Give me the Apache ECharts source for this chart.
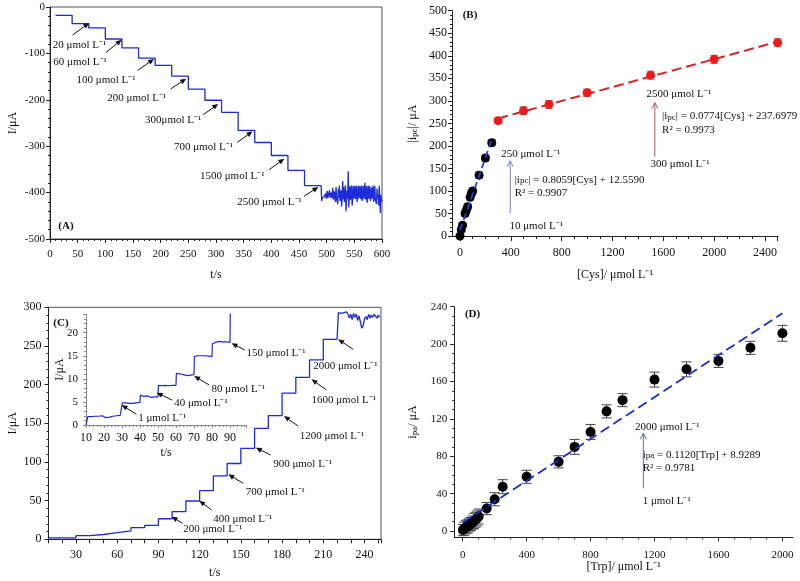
<!DOCTYPE html>
<html><head><meta charset="utf-8">
<script src="https://cdn.jsdelivr.net/npm/echarts@6/dist/echarts.min.js"></script>
<style>html,body{margin:0;padding:0;background:#fff}#c{width:800px;height:581px}</style>
</head><body><div id="c"></div><script>
const FONT = '"Liberation Serif", "Times New Roman", serif';

// ---------- Panel A : amperometric trace (Cys) ----------
const stepTimesA = [10,40,70,100,130,160,190,220,250,280,310,340,370,400,430,460,490];
const levelsA = [-18,-36,-45,-69,-88,-110,-126,-149,-177,-201,-227,-266,-292,-320,-352,-385];
const noiseStartA = 491;
const noiseA = [-418,-412,-414,-410,-413,-408,-412,-402,-413,-410,
 -396,-412,-409,-414,-395,-411,-413,-400,-412,-409,
 -390,-415,-411,-397,-413,-420,-388,-412,-409,-425,
 -392,-411,-385,-418,-410,-395,-430,-412,-375,-414,
 -388,-420,-409,-384,-440,-411,-395,-413,-354,-432,
 -409,-386,-415,-410,-385,-428,-411,-386,-413,-409,
 -385,-414,-410,-386,-420,-411,-385,-412,-409,-386,
 -414,-410,-385,-418,-411,-386,-413,-409,-379,-415,
 -410,-386,-422,-411,-385,-413,-409,-386,-418,-410,
 -389,-413,-409,-385,-420,-411,-386,-414,-410,-425,
 -392,-411,-404,-428,-386,-412,-444,-405,-420,-415];

// ---------- Panel B : calibration (Cys) ----------
const cysLow  = [0,10,20,40,50,60,80,90,100,150,200,250];
const ipcLow  = [0,14,24,50,57,65,86,95,100,135,173,207];
const errLow  = [3,5,5,6,6,6,6,7,7,7,7,7];
const cysHigh = [300,500,700,1000,1500,2000,2500];
const ipcHigh = [256,278,292,318,357,392,429];
const errHigh = [6,9,9,8,9,9,9];
const fitLowX = [0,255],   fitLowY = [12.6,218];
const fitHighX = [300,2500], fitHighY = [260.9,431.2];

// ---------- Panel C : amperometric trace (Trp) ----------
const stepTimesC = [10,30,40,50,60,70,80,90,100,110,120,130,140,150,160,170,180,190,200,210,220];
const levelsC = [1.8,4.8,6.2,8.5,11,15,18,26.6,35.8,49.5,63,82,98,117.7,143.5,160,189,209.5,232,258.6];
const noiseStartC = 221;
const noiseC = [293,294,292,294,293,292,294,291,286,291,284,292,287,291,283,289,281,273,276,285,288,284,291,286,290,287,291,289,286,290,287];
// inset
const insetT = [10,10.6,11,12,13,14,15,16,17,18,19,20,21,22,23,24,25,26,27,28,29,30,
 30.2,31,32,33,34,35,36,37,38,39,40,
 40.2,41,42,43,44,45,46,47,48,49,50,
 50.2,51,52,53,54,55,56,57,58,59,60,
 60.2,61,62,63,64,65,66,67,68,69,70,
 70.2,71,72,73,74,75,76,77,78,79,80,
 80.2,81,82,83,84,85,86,87,88,89,90,
 90.2];
const insetI = [0,0.3,1.8,1.9,1.8,1.9,1.9,2.0,1.9,2.1,2.0,1.8,1.6,1.5,1.7,1.8,1.9,2.0,2.0,2.1,2.1,2.2,
 4.8,4.9,4.8,4.7,4.7,4.6,4.7,4.8,4.8,4.9,4.9,
 6.5,6.4,6.2,6.1,6.3,6.2,6.0,6.2,6.1,6.0,6.1,
 8.6,8.4,8.5,8.5,8.6,8.5,8.5,8.6,8.6,8.6,8.6,
 11.2,11.3,11.1,11.0,10.9,10.8,10.7,10.6,10.8,11.0,10.9,
 14.8,15.0,15.0,15.1,15.0,15.1,15.0,14.9,14.9,14.8,14.8,
 17.6,17.8,17.9,18.0,18.1,17.9,18.0,17.9,18.0,17.9,17.9,
 26];

// ---------- Panel D : calibration (Trp) ----------
const trp = [1,10,20,30,40,50,60,70,80,90,100,150,200,250,400,600,700,800,900,1000,1200,1400,1600,1800,2000];
const ipa = [1,2.5,4,5,6,7.5,9,10.5,12,13.5,15.5,24,34,47.4,58,74,90,106,128,140,162,173,182,196,211.5];
const errD = [6,7,7,7,7,7,7,8,8,8,8,6.5,7,7.5,7,6.5,8,8,7,7,8,8,7,7,8.5];
const fitDX = [0,2000], fitDY = [8.9,232.9];

// ---------- helpers ----------
const zip = (a, b) => a.map((v, i) => [v, b[i]]);
const zip3 = (a, b, c) => a.map((v, i) => [v, b[i], c[i]]);
function stepPairs(times, levels) {
  const out = [];
  for (let i = 0; i < levels.length; i++) { out.push([times[i], levels[i]]); out.push([times[i + 1], levels[i]]); }
  return out;
}
const seriesA = stepPairs(stepTimesA, levelsA).concat(noiseA.map((v, i) => [noiseStartA + i, v]));
const seriesC = stepPairs(stepTimesC, levelsC).concat(noiseC.map((v, i) => [noiseStartC + i, v]));

const RICH = {
  sub: { fontFamily: FONT, fontSize: 9, verticalAlign: 'bottom', lineHeight: 10, padding: [6, 0, 0, 0] }
};
const BLK = '#111';
const plain = v => String(v);
function merge(a, b) {
  const o = Array.isArray(a) ? a.slice() : Object.assign({}, a);
  for (const k in b) {
    if (b[k] && typeof b[k] === 'object' && !Array.isArray(b[k]) && a[k] && typeof a[k] === 'object') o[k] = merge(a[k], b[k]);
    else o[k] = b[k];
  }
  return o;
}
const AX = {
  type: 'value',
  axisLine: { show: true, onZero: false, lineStyle: { color: '#222', width: 1 } },
  axisTick: { show: true, length: 4, lineStyle: { color: '#222' } },
  minorTick: { show: true, splitNumber: 5, length: 2, lineStyle: { color: '#222' } },
  axisLabel: { fontFamily: FONT, fontSize: 11, color: BLK, margin: 5, formatter: plain },
  splitLine: { show: false }, minorSplitLine: { show: false },
  nameLocation: 'middle',
  nameTextStyle: { fontFamily: FONT, fontSize: 12, color: BLK, rich: RICH }
};
const FRAME = {
  type: 'value', min: 0, max: 1,
  axisLine: { show: true, onZero: false, lineStyle: { color: '#222', width: 1 } },
  axisTick: { show: false }, axisLabel: { show: false }, splitLine: { show: false },
  nameLocation: 'middle',
  nameTextStyle: { fontFamily: FONT, fontSize: 12, color: BLK, rich: RICH }
};
function errRender(capW) {
  return function (params, api) {
    const x = api.value(0), y = api.value(1), e = api.value(2);
    const p1 = api.coord([x, y + e]), p2 = api.coord([x, y - e]);
    const style = { stroke: api.visual('color'), lineWidth: 1 };
    return { type: 'group', children: [
      { type: 'line', shape: { x1: p1[0], y1: p1[1], x2: p2[0], y2: p2[1] }, style },
      { type: 'line', shape: { x1: p1[0] - capW, y1: p1[1], x2: p1[0] + capW, y2: p1[1] }, style },
      { type: 'line', shape: { x1: p2[0] - capW, y1: p2[1], x2: p2[0] + capW, y2: p2[1] }, style }
    ]};
  };
}

const chart = echarts.init(document.getElementById('c'), null, { renderer: 'canvas' });
const G = (o) => Object.assign({ containLabel: false, outerBoundsMode: 'none' }, o);

const option = {
  animation: false,
  backgroundColor: '#fff',
  grid: [
    G({ left: 50, top: 7, width: 332, height: 232, show: true, borderColor: '#555', borderWidth: 1 }), // 0 A
    G({ left: 452, top: 10.7, width: 326, height: 226 }),                  // 1 B frame
    G({ left: 460, top: 10.7, width: 317.7, height: 225.3 }),              // 2 B data
    G({ left: 48.5, top: 307.3, width: 332.5, height: 232, show: true, borderColor: '#555', borderWidth: 1 }), // 3 C
    G({ left: 86, top: 314.2, width: 160.2, height: 110.8 }),              // 4 C inset
    G({ left: 454.3, top: 306.7, width: 338.7, height: 230.6 }),           // 5 D frame
    G({ left: 462.7, top: 306.7, width: 319.7, height: 224.3 })            // 6 D data
  ],
  xAxis: [
    merge(AX, { gridIndex: 0, min: 0, max: 600, interval: 50, name: 't/s', nameGap: 30,
      axisLabel: { margin: 10 } }),
    merge(FRAME, { gridIndex: 1, name: '[Cys]/ μmol L⁻¹', nameGap: 32 }),
    merge(AX, { gridIndex: 2, min: 0, max: 2500, interval: 400, axisLine: { show: false }, offset: 1,
      minorTick: { splitNumber: 4 }, axisLabel: { showMaxLabel: false, margin: 10, fontSize: 12 } }),
    merge(AX, { gridIndex: 3, min: 10, max: 252, interval: 10, name: 't/s', nameGap: 28,
      minorTick: { show: false },
      axisLabel: { interval: 0, margin: 10, fontSize: 12, formatter: v => (v % 30 === 0 ? String(v) : '') } }),
    merge(AX, { gridIndex: 4, min: 10, max: 99, interval: 10, name: 't/s', nameGap: 22,
      axisLine: { lineStyle: { color: '#888' } }, axisTick: { length: 3, lineStyle: { color: '#888' } },
      minorTick: { splitNumber: 5, lineStyle: { color: '#888' } },
      axisLabel: { margin: 7, fontSize: 12, formatter: v => (v % 10 === 0 ? String(v) : '') } }),
    merge(FRAME, { gridIndex: 5, name: '[Trp]/ μmol L⁻¹', nameGap: 24 }),
    merge(AX, { gridIndex: 6, min: 0, max: 2000, interval: 400, axisLine: { show: false }, offset: 6.3,
      minorTick: { splitNumber: 4 }, axisLabel: { margin: 12 } })
  ],
  yAxis: [
    merge(AX, { gridIndex: 0, min: -500, max: 0, interval: 100, name: 'I/μA', nameGap: 31 }),
    merge(FRAME, { gridIndex: 1, name: '|i{sub|pc}|/ μA', nameGap: 33 }),
    merge(AX, { gridIndex: 2, min: 0, max: 500, interval: 50, axisLine: { show: false }, offset: 8,
      axisLabel: { fontSize: 12 } }),
    merge(AX, { gridIndex: 3, min: 0, max: 300, interval: 50, name: 'I/μA', nameGap: 30,
      axisLabel: { margin: 7, fontSize: 12 } }),
    merge(AX, { gridIndex: 4, min: 0, max: 24, interval: 5, name: 'I/μA', nameGap: 20, nameMoveOverlap: false,
      axisLine: { lineStyle: { color: '#888' } }, axisTick: { length: 3, lineStyle: { color: '#888' } },
      minorTick: { splitNumber: 5, lineStyle: { color: '#888' } },
      axisLabel: { showMaxLabel: false, margin: 8, fontSize: 11 } }),
    merge(FRAME, { gridIndex: 5, name: 'i{sub|pa}/ μA', nameGap: 35 }),
    merge(AX, { gridIndex: 6, min: 0, max: 240, interval: 40, axisLine: { show: false }, offset: 8.4,
      minorTick: { splitNumber: 4 }, axisLabel: { margin: 7 } })
  ],
  series: [
    { type: 'line', xAxisIndex: 0, yAxisIndex: 0, data: seriesA, showSymbol: false, symbol: 'none',
      lineStyle: { color: '#1d2bd8', width: 1.3 } },
    // B
    { type: 'line', xAxisIndex: 2, yAxisIndex: 2, data: zip(fitLowX, fitLowY), symbol: 'none', z: 3,
      lineStyle: { color: '#1f3fd6', width: 1.8, type: [7, 4] } },
    { type: 'line', xAxisIndex: 2, yAxisIndex: 2, data: zip(fitHighX, fitHighY), symbol: 'none', z: 1,
      lineStyle: { color: '#c92a2a', width: 2, type: [10, 5] } },
    { type: 'custom', xAxisIndex: 2, yAxisIndex: 2, data: zip3(cysLow, ipcLow, errLow), renderItem: errRender(4),
      itemStyle: { color: '#777' }, clip: false, z: 2 },
    { type: 'custom', xAxisIndex: 2, yAxisIndex: 2, data: zip3(cysHigh, ipcHigh, errHigh), renderItem: errRender(4),
      itemStyle: { color: '#888' }, clip: false, z: 2 },
    { type: 'scatter', xAxisIndex: 2, yAxisIndex: 2, data: zip(cysLow, ipcLow), symbolSize: 9, clip: false, z: 2,
      itemStyle: { color: '#000', opacity: 1 } },
    { type: 'scatter', xAxisIndex: 2, yAxisIndex: 2, data: zip(cysHigh, ipcHigh), symbolSize: 9, clip: false, z: 2,
      itemStyle: { color: '#f01818', opacity: 1 } },
    // C
    { type: 'line', xAxisIndex: 3, yAxisIndex: 3, data: seriesC, showSymbol: false, symbol: 'none',
      lineStyle: { color: '#1d2bd8', width: 1.3 } },
    { type: 'line', xAxisIndex: 4, yAxisIndex: 4, data: zip(insetT, insetI), showSymbol: false, symbol: 'none',
      lineStyle: { color: '#1d2bd8', width: 1.2 } },
    // D
    { type: 'custom', xAxisIndex: 6, yAxisIndex: 6, data: zip3(trp, ipa, errD), renderItem: errRender(5),
      itemStyle: { color: '#444' }, clip: false, z: 2 },
    { type: 'scatter', xAxisIndex: 6, yAxisIndex: 6, data: zip(trp, ipa), symbolSize: 10, clip: false, z: 3,
      itemStyle: { color: '#000', opacity: 1 } },
    { type: 'line', xAxisIndex: 6, yAxisIndex: 6, data: zip(fitDX, fitDY), symbol: 'none', z: 4,
      lineStyle: { color: '#1b2fc4', width: 1.8, type: [10, 5] } }
  ]
};
chart.setOption(option);

// ---------- annotations (placed in data coordinates) ----------
const annA = [
  { t: '20 μmol L⁻¹',   p: [5, -83],     a: [41, -60],     b: [71, -34.5] },
  { t: '60 μmol L⁻¹',   p: [6, -119],    a: [101, -98],    b: [129.6, -70.5] },
  { t: '100 μmol L⁻¹',  p: [48, -157],   a: [158.5, -136.6], b: [188, -112] },
  { t: '200 μmol L⁻¹',  p: [103.6, -196], a: [218, -176.7], b: [246, -154.5] },
  { t: '300μmol L⁻¹',   p: [171.7, -244], a: [277, -232],   b: [304, -209] },
  { t: '700 μmol L⁻¹',  p: [224, -302],  a: [338.5, -291.8], b: [366, -268] },
  { t: '1500 μmol L⁻¹', p: [271, -365],  a: [396, -350.6], b: [423.5, -327] },
  { t: '2500 μmol L⁻¹', p: [338.5, -421], a: [459, -408],  b: [485, -388] }
];
const annC = [
  { t: '150 μmol L⁻¹',  p: [154.1, 240.5], a: [152.9, 244.8], b: [143.2, 253.5] },
  { t: '80 μmol L⁻¹',   p: [128.7, 194],   a: [127, 199.5],   b: [116, 211.2] },
  { t: '40 μmol L⁻¹',   p: [101.5, 176],   a: [100, 180],     b: [88.7, 189.6] },
  { t: '1 μmol L⁻¹',    p: [75.3, 157],    a: [74, 161.6],    b: [63.2, 173.7] },
  { t: '2000 μmol L⁻¹', p: [202.6, 224],   a: [231.7, 245.7], b: [220.8, 258.6] },
  { t: '1600 μmol L⁻¹', p: [201.4, 180],   a: [212.3, 193],   b: [201.4, 207] },
  { t: '1200 μmol L⁻¹', p: [192.9, 134],   a: [191.7, 146.5], b: [181.3, 159.4] },
  { t: '900 μmol L⁻¹',  p: [173.5, 97.4],  a: [171.6, 109],   b: [160.9, 118.5] },
  { t: '700 μmol L⁻¹',  p: [153.6, 61.6],  a: [151.7, 72.4],  b: [140.8, 84] },
  { t: '400 μmol L⁻¹',  p: [129.9, 25.9],  a: [128.7, 37.9],  b: [119.7, 50] },
  { t: '200 μmol L⁻¹',  p: [108, 13],      a: [107.6, 20.7],  b: [99.6, 29.2] }
];
const textB = [
  { t: '(B)', p: [21, 490], bold: true },
  { t: '250 μmol L⁻¹', p: [324, 182] },
  { t: '|i{sub|pc}| = 0.8059[Cys] + 12.5590', p: [430, 124] },
  { t: 'R² = 0.9907', p: [430, 96] },
  { t: '10 μmol L⁻¹', p: [389, 22] },
  { t: '2500 μmol L⁻¹', p: [1468, 314] },
  { t: '|i{sub|pc}| = 0.0774[Cys] + 237.6979', p: [1590, 265] },
  { t: 'R² = 0.9973', p: [1590, 235] },
  { t: '300 μmol L⁻¹', p: [1499, 160] }
];
const arrowsB = [
  { a: [395, 50], b: [395, 167], c: '#7c80c4' },
  { a: [1533, 176], b: [1533, 296], c: '#b35a5a' }
];
const textD = [
  { t: '(D)', p: [14, 232], bold: true },
  { t: '2000 μmol L⁻¹', p: [1078, 111.6] },
  { t: 'i{sub|pa} = 0.1120[Trp] + 8.9289', p: [1126, 81.3] },
  { t: 'R² = 0.9781', p: [1126, 67] },
  { t: '1 μmol L⁻¹', p: [1126, 32] }
];
const arrowsD = [{ a: [1130, 45.7], b: [1130, 104.5], c: '#5b6dbf' }];

const gfx = [];
const px = (xi, yi, v) => chart.convertToPixel({ xAxisIndex: xi, yAxisIndex: yi }, v);
function addText(xi, yi, o) {
  const p = px(xi, yi, o.p);
  gfx.push({ type: 'text', x: p[0], y: p[1], z: 100, silent: true,
    style: { text: o.t, fontFamily: FONT, fontSize: 11, fontWeight: o.bold ? 'bold' : 'normal',
      fill: BLK, align: 'left', verticalAlign: 'middle', rich: RICH } });
}
function addArrow(xi, yi, a, b, color, filled) {
  const p1 = px(xi, yi, a), p2 = px(xi, yi, b);
  const dx = p2[0] - p1[0], dy = p2[1] - p1[1], L = Math.hypot(dx, dy);
  const ux = dx / L, uy = dy / L, hl = 6, hw = filled ? 2.6 : 3;
  const bx = p2[0] - ux * hl, by = p2[1] - uy * hl;
  const l = [bx - uy * hw, by + ux * hw], r = [bx + uy * hw, by - ux * hw];
  gfx.push({ type: 'line', z: 100, silent: true,
    shape: { x1: p1[0], y1: p1[1], x2: filled ? bx + ux : p2[0], y2: filled ? by + uy : p2[1] },
    style: { stroke: color, lineWidth: 1 } });
  if (filled) gfx.push({ type: 'polygon', z: 100, silent: true, shape: { points: [p2, l, r] }, style: { fill: color } });
  else gfx.push({ type: 'polyline', z: 100, silent: true, shape: { points: [l, p2, r] }, style: { stroke: color, lineWidth: 1, fill: null } });
}
annA.forEach(o => { addText(0, 0, o); addArrow(0, 0, o.a, o.b, '#111', true); });
addText(0, 0, { t: '(A)', p: [15, -473], bold: true });
textB.forEach(o => addText(2, 2, o));
arrowsB.forEach(o => addArrow(2, 2, o.a, o.b, o.c, false));
annC.forEach(o => { addText(3, 3, o); addArrow(3, 3, o.a, o.b, '#111', true); });
addText(3, 3, { t: '(C)', p: [13.5, 279], bold: true });
textD.forEach(o => addText(6, 6, o));
arrowsD.forEach(o => addArrow(6, 6, o.a, o.b, o.c, false));
chart.setOption({ graphic: gfx });
</script></body></html>
